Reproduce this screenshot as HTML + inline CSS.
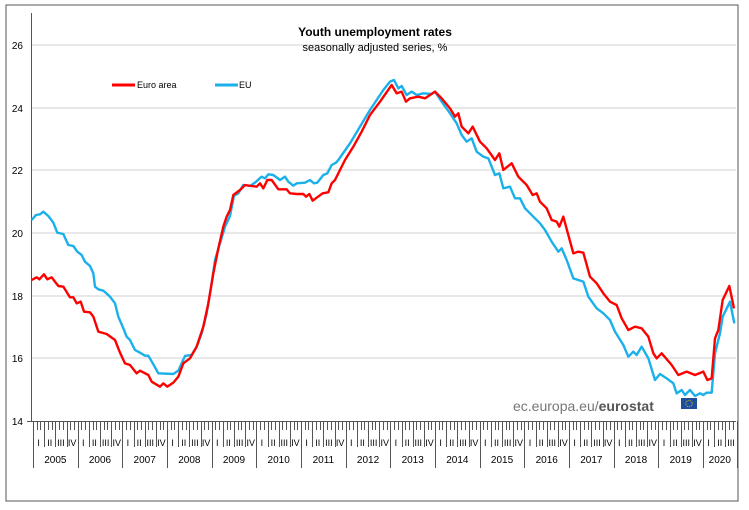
<!DOCTYPE html>
<html><head><meta charset="utf-8"><style>
body{margin:0;background:#fff;}
svg{display:block;font-family:"Liberation Sans",Arial,sans-serif;}
</style></head><body>
<svg width="749" height="510" viewBox="0 0 749 510" xmlns="http://www.w3.org/2000/svg">
<rect x="6" y="5" width="732" height="496" fill="#fff" stroke="#555" stroke-width="1"/>
<g stroke="#d0d0d0" stroke-width="1">
<line x1="31" y1="45" x2="736" y2="45"/><line x1="31" y1="108" x2="736" y2="108"/>
<line x1="31" y1="170" x2="736" y2="170"/><line x1="31" y1="233" x2="736" y2="233"/>
<line x1="31" y1="296" x2="736" y2="296"/><line x1="31" y1="358" x2="736" y2="358"/>
</g>
<line x1="31.5" y1="13" x2="31.5" y2="421" stroke="#555"/>
<line x1="27" y1="421.5" x2="736" y2="421.5" stroke="#555"/>
<g font-size="10" text-anchor="end" fill="#000">
<text x="23" y="49">26</text><text x="23" y="112">24</text><text x="23" y="174">22</text>
<text x="23" y="237">20</text><text x="23" y="300">18</text><text x="23" y="362">16</text><text x="23" y="425">14</text>
</g>
<g id="ticks" stroke="#555" stroke-width="1"></g>
<g id="qlab" font-size="9" text-anchor="middle"></g>
<g id="ylab" font-size="10" text-anchor="middle"></g>
<text x="375" y="36" font-size="12" font-weight="bold" text-anchor="middle">Youth unemployment rates</text>
<text x="375" y="51" font-size="11" text-anchor="middle">seasonally adjusted series, %</text>
<line x1="112" y1="85" x2="135" y2="85" stroke="#f00" stroke-width="3"/>
<text x="137" y="88" font-size="9">Euro area</text>
<line x1="215" y1="85" x2="238" y2="85" stroke="#1ab0ea" stroke-width="3"/>
<text x="239" y="88" font-size="9">EU</text>
<g fill="none" stroke-width="2.4" stroke-linejoin="round">
<polyline transform="translate(30,160) scale(0.33333)" vector-effect="non-scaling-stroke" stroke="#1ab0ea" points="5,180 18,165 30,163 40,155 55,168 70,188 82,218 100,222 115,255 130,258 142,275 155,285 165,305 180,318 190,340 195,380 205,388 220,392 240,410 255,430 265,470 280,505 290,530 300,540 315,570 330,578 345,587 355,587 370,613 385,640 430,642 445,632 465,588 485,585 500,560 515,520 530,460 545,370 555,300 570,250 585,200 600,168 612,107 625,100 640,75 660,78 675,68 695,50 705,55 715,43 730,45 750,60 765,50 775,65 790,77 800,70 825,68 840,60 852,70 862,68 880,45 892,40 905,15 918,8 925,0 960,-50 990,-100 1020,-150"/>
<polyline transform="translate(370,70) scale(0.33333)" vector-effect="non-scaling-stroke" stroke="#1ab0ea" points="0,120 20,90 40,60 60,35 72,30 85,55 95,48 110,75 125,65 140,75 160,70 185,72 195,65 215,95 240,130 260,160 275,195 290,215 305,205 320,245 340,260 355,265 375,315 388,310 400,355 420,350 435,385 450,385 465,415 490,440 510,460 525,480 545,515 565,545 575,535 590,570 610,625 625,630 640,635 655,680 680,715 700,730 720,750 735,785 760,825 775,860 790,845 800,855 815,830 835,865 855,930 870,912 890,925 910,940 920,970 935,960 945,975 960,960 975,978 990,970 1000,975 1010,968 1025,968 1035,850 1050,790 1058,740 1080,695 1093,760"/>
<polyline transform="translate(30,160) scale(0.33333)" vector-effect="non-scaling-stroke" stroke="#f00" points="5,360 20,352 28,358 42,343 52,358 65,352 85,378 100,380 120,412 130,412 140,430 152,425 162,455 180,457 190,470 205,515 230,522 255,540 270,578 285,610 300,615 320,640 330,632 355,645 365,665 390,680 400,670 412,680 430,668 445,650 460,610 480,595 500,560 520,500 535,430 550,340 565,265 580,200 590,170 600,150 610,105 630,90 645,75 665,78 680,80 690,70 700,85 712,60 725,60 745,88 770,88 780,100 800,102 820,102 828,110 838,102 848,122 860,113 878,100 895,97 905,70 915,60 930,30 945,0 970,-40 995,-85 1020,-135"/>
<polyline transform="translate(370,70) scale(0.33333)" vector-effect="non-scaling-stroke" stroke="#f00" points="0,135 30,95 65,45 80,70 95,65 108,95 120,85 145,80 165,85 195,65 215,85 240,115 255,140 265,130 275,170 295,190 308,170 330,215 350,235 375,270 388,250 400,300 425,280 445,320 470,345 488,375 500,370 510,395 530,415 545,450 560,455 568,470 580,440 610,550 625,545 640,548 660,620 680,640 700,670 720,695 740,705 755,745 775,780 795,770 815,775 835,800 850,850 860,865 875,850 905,885 925,915 950,905 975,915 1000,905 1012,930 1025,925 1035,805 1045,780 1058,690 1078,648 1092,715"/>
</g>
<text x="513" y="411" font-size="14" fill="#777">ec.europa.eu/<tspan font-weight="bold" fill="#555">eurostat</tspan></text>
<rect x="681" y="398" width="16" height="11" fill="#1f4e9c"/>
<circle cx="689" cy="403.5" r="3.2" fill="none" stroke="#f5d400" stroke-width="0.8" stroke-dasharray="1,1"/>
<script>
(function(){
var ns="http://www.w3.org/2000/svg",t=document.getElementById("ticks"),q=document.getElementById("qlab"),y=document.getElementById("ylab");
var x0=33,mw=44.67/12,n=189,Q=["I","II","III","IV"];
function L(x1,y1,x2,y2){var l=document.createElementNS(ns,"line");l.setAttribute("x1",x1);l.setAttribute("y1",y1);l.setAttribute("x2",x2);l.setAttribute("y2",y2);t.appendChild(l);}
for(var m=0;m<=n;m++){var x=Math.round(x0+m*mw)+0.5;
 if(m%12==0||m==n) L(x,421,x,468); else if(m%3==0) L(x,421,x,447); else L(x,421,x,430);}
for(var k=0;k<63;k++){var x=x0+(k*3+1.5)*mw;var s=document.createElementNS(ns,"text");s.setAttribute("x",x);s.setAttribute("y",446);s.textContent=Q[k%4];q.appendChild(s);}
for(var yr=0;yr<16;yr++){var a=x0+yr*12*mw,b=Math.min(x0+(yr+1)*12*mw,x0+n*mw);var s=document.createElementNS(ns,"text");s.setAttribute("x",(a+b)/2);s.setAttribute("y",463);s.textContent=2005+yr;y.appendChild(s);}
})();
</script>
</svg>
</body></html>
